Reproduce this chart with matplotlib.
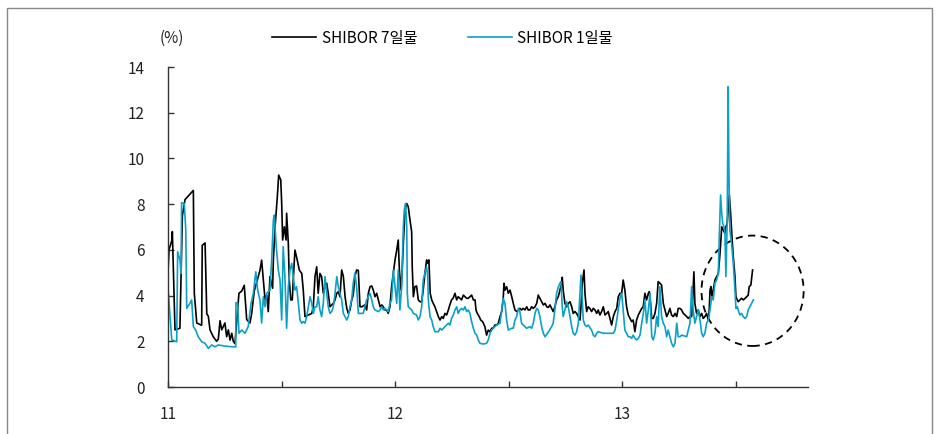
import matplotlib
matplotlib.use("Agg")
import matplotlib.pyplot as plt
from matplotlib.patches import Ellipse, Rectangle

plt.rcParams["font.family"] = ["Noto Sans CJK KR", "DejaVu Sans"]

# months since Jan 2011, rate in %
black_month = [
    0.00, 0.05, 0.20, 0.23, 0.37, 0.63, 0.76, 0.90, 1.34, 1.39, 1.52, 1.78, 1.81, 1.96, 2.05, 2.13,
    2.22, 2.39, 2.57, 2.66, 2.75, 2.84, 3.01, 3.10, 3.19, 3.28, 3.37, 3.45, 3.54, 3.75, 3.90, 4.03,
    4.16, 4.33, 4.42, 4.56, 4.86, 4.95,
    5.13, 5.22, 5.30, 5.39, 5.53, 5.57, 5.66, 5.78, 5.85, 5.96, 6.01, 6.06, 6.15, 6.24, 6.27, 6.36,
    6.41, 6.49, 6.57, 6.62, 6.71, 6.83, 6.94, 7.07, 7.15, 7.24, 7.42, 7.60, 7.68, 7.77, 7.86, 7.94,
    8.03, 8.12, 8.21, 8.30, 8.39, 8.47, 8.56, 8.74, 8.83, 8.92, 9.00, 9.09, 9.18, 9.27, 9.36, 9.45,
    9.53, 9.62, 9.71, 9.79, 9.88, 9.97, 10.06,
    10.15, 10.24, 10.41, 10.50, 10.59, 10.68, 10.77, 10.85, 10.94, 11.03, 11.12, 11.21, 11.30, 11.38,
    11.47, 11.56, 11.64, 11.73, 11.82, 11.91, 12.00, 12.09, 12.17, 12.23, 12.32, 12.38, 12.44, 12.53,
    12.62, 12.70, 12.79, 12.88, 12.91, 12.97, 13.05, 13.14, 13.23, 13.32, 13.41, 13.49, 13.58, 13.67,
    13.73, 13.79, 13.86, 13.94, 14.02, 14.11, 14.20, 14.29, 14.38, 14.47, 14.55, 14.64, 14.73, 14.82,
    14.90, 14.99, 15.08,
    15.17, 15.26, 15.34, 15.43, 15.52, 15.61, 15.79, 15.87, 15.96, 16.05, 16.14, 16.23, 16.28, 16.35,
    16.45, 16.53, 16.63, 16.75, 16.84, 16.93, 17.02, 17.11, 17.19, 17.28, 17.37, 17.46, 17.55, 17.64,
    17.72, 17.76, 17.81, 17.90, 17.99, 18.08, 18.17, 18.25, 18.34, 18.43, 18.52, 18.60, 18.69, 18.78,
    18.87, 18.96, 19.04, 19.13, 19.22, 19.31, 19.40, 19.49, 19.57, 19.66, 19.75, 19.84, 19.93, 20.02,
    20.10,
    20.19, 20.28, 20.36, 20.45, 20.54, 20.63, 20.72, 20.81, 20.84, 20.89, 20.98, 21.07, 21.16, 21.25,
    21.34, 21.42, 21.51, 21.60, 21.69, 21.78, 21.83, 21.90, 21.99, 22.04, 22.13, 22.21, 22.30, 22.39,
    22.48, 22.57, 22.66, 22.74, 22.83, 22.92, 23.01, 23.10, 23.19, 23.27, 23.36, 23.45, 23.54, 23.63,
    23.72, 23.80, 23.89, 23.98, 24.06, 24.15, 24.24, 24.33, 24.42, 24.51, 24.59, 24.68, 24.77, 24.86,
    24.95, 25.04, 25.12,
    25.21, 25.30, 25.39, 25.44, 25.51, 25.57, 25.65, 25.74, 25.83, 25.91, 26.00, 26.09, 26.18, 26.27,
    26.36, 26.44, 26.53, 26.62, 26.71, 26.80, 26.89, 26.97, 27.06, 27.15, 27.24, 27.33, 27.42, 27.50,
    27.59, 27.68, 27.73, 27.80, 27.85, 27.94, 28.03, 28.12, 28.21, 28.29, 28.38, 28.47, 28.56, 28.61,
    28.65, 28.70, 28.75, 28.82, 28.91, 29.00, 29.09, 29.18, 29.27, 29.35, 29.44, 29.49, 29.56, 29.61,
    29.67, 29.74, 29.81, 29.88, 29.97, 30.02, 30.09, 30.14, 30.23, 30.32, 30.41, 30.50, 30.59, 30.67,
    30.72, 30.81, 30.90,
]
black_rate = [
    5.0, 6.0, 6.4, 6.8, 2.5, 2.57, 7.5, 8.2, 8.6, 4.1, 2.8, 2.7, 6.2, 6.3, 3.2, 3.1,
    2.5, 2.2, 2.0, 2.1, 2.9, 2.5, 2.8, 2.2, 2.5, 2.05, 2.35, 2.0, 1.9, 4.1, 4.2, 4.45,
    2.95, 2.8, 3.2, 4.2, 5.1, 5.55,
    3.81, 4.02, 3.3, 4.83, 4.32, 5.56, 7.01, 8.33, 9.27, 9.06, 8.03, 6.43, 7.01, 6.43, 7.6, 6.28,
    4.68, 3.81, 3.81, 4.68, 5.99, 5.56, 5.12, 4.97, 4.24, 3.08, 3.15, 3.22, 3.51, 4.83, 5.26, 4.1,
    4.97, 4.83, 4.1, 4.39, 4.54, 4.1, 3.51, 3.66, 3.81, 4.1, 4.17, 3.95, 5.12, 4.83, 3.95, 3.44,
    3.22, 3.37, 3.81, 4.02, 4.83, 5.12, 5.1,
    3.51, 3.51, 3.59, 3.37, 4.1, 4.39, 4.42, 4.24, 3.95, 4.1, 3.81, 3.51, 3.59, 3.51,
    3.37, 3.37, 3.22, 3.51, 4.39, 4.97, 5.56, 5.99, 6.43, 5.12, 4.24, 5.12, 6.28, 7.74,
    8.03, 7.89, 7.31, 6.79, 5.26, 3.95, 4.39, 4.42, 3.81, 3.73, 3.73, 4.24, 4.97, 5.56,
    5.41, 5.56, 4.1, 3.81, 3.66, 3.51, 3.3, 3.08, 2.93, 3.08, 3.0, 3.22, 3.15, 3.37,
    3.6, 3.81, 3.9,
    4.1, 3.81, 3.95, 3.88, 3.81, 4.02, 3.88, 3.88, 3.95, 4.02, 3.81, 3.81, 3.37, 3.22,
    3.08, 2.93, 2.86, 2.64, 2.27, 2.49, 2.42, 2.57, 2.57, 2.71, 2.71, 2.79, 3.08, 3.3,
    3.88, 4.54, 4.24, 4.39, 4.1, 4.24, 3.95, 3.66, 3.37, 3.3, 3.37, 3.44, 3.37, 3.44,
    3.37, 3.51, 3.37, 3.37, 3.51, 3.44, 3.51, 3.66, 4.02, 3.88, 3.73, 3.59, 3.66, 3.51,
    3.48,
    3.59, 3.44, 3.3, 3.51, 3.81, 3.95, 4.24, 4.54, 4.8, 4.24, 3.66, 3.51, 3.66, 3.73,
    3.51, 3.22, 3.3, 3.22, 3.08, 2.93, 3.51, 4.54, 5.12, 4.1, 3.3, 3.51, 3.44, 3.3,
    3.44, 3.37, 3.22, 3.37, 3.15, 3.3, 3.51, 3.15, 3.22, 3.3, 3.0, 2.71, 3.08, 3.3,
    3.44, 3.95, 4.1, 4.1, 4.68, 4.24, 3.51, 3.15, 3.0, 2.86, 2.93, 2.42, 2.93, 3.15,
    3.3, 3.44, 3.51,
    4.1, 3.81, 4.1, 4.17, 3.66, 3.0, 3.0, 3.22, 3.66, 4.61, 4.54, 4.46, 3.66, 3.37,
    3.08, 3.22, 3.44, 3.15, 3.08, 3.22, 3.08, 3.44, 3.44, 3.37, 3.22, 3.15, 3.08, 3.0,
    3.08, 3.08, 3.81, 5.04, 3.66, 3.22, 3.37, 3.08, 3.22, 3.0, 3.08, 3.22, 2.93, 3.37,
    4.24, 4.39, 3.95, 4.24, 4.68, 4.83, 4.97, 5.85, 7.01, 6.87, 6.72, 7.01, 7.16, 7.74,
    8.4, 7.6, 6.58, 5.7, 4.83, 3.95, 3.81, 3.73, 3.81, 3.88, 3.81, 3.88, 3.95, 4.02,
    4.39, 4.46, 5.12,
]

blue_month = [
    0.00, 0.20, 0.46, 0.51, 0.63, 0.69, 0.72, 0.86, 0.94, 0.99, 1.16, 1.25, 1.34, 1.46, 1.60, 1.78,
    1.96, 2.13, 2.31, 2.48, 2.66, 3.01, 3.37, 3.58, 3.59, 3.68, 3.75, 3.90, 4.07, 4.24, 4.39, 4.51,
    4.64, 4.74, 4.86, 4.95,
    5.04, 5.13, 5.22, 5.39, 5.48, 5.57, 5.62, 5.71, 5.83, 5.92, 6.01, 6.09, 6.18, 6.27, 6.36, 6.45,
    6.54, 6.62, 6.71, 6.80, 6.89, 6.98, 7.07, 7.15, 7.24, 7.33, 7.42, 7.51, 7.60, 7.68, 7.77, 7.86,
    7.94, 8.03, 8.12, 8.21, 8.30, 8.39, 8.47, 8.56, 8.65, 8.74, 8.83, 8.92, 9.00, 9.18, 9.27, 9.36,
    9.45, 9.53, 9.62, 9.71, 9.79, 9.88, 9.97, 10.06,
    10.32, 10.41, 10.50, 10.59, 10.68, 10.77, 10.85, 10.94, 11.12, 11.21, 11.30, 11.38, 11.47, 11.56,
    11.64, 11.73, 11.82, 11.91, 12.00, 12.09, 12.17, 12.26, 12.35, 12.44, 12.49, 12.56, 12.62, 12.65,
    12.70, 12.88, 12.97, 13.14, 13.23, 13.32, 13.41, 13.49, 13.58, 13.67, 13.73, 13.76, 13.85, 13.94,
    14.02, 14.11, 14.29, 14.38, 14.47, 14.64, 14.82, 14.90, 14.99, 15.08,
    15.17, 15.26, 15.34, 15.43, 15.52, 15.61, 15.70, 15.79, 15.87, 15.96, 16.05, 16.14, 16.23, 16.32,
    16.40, 16.49, 16.66, 16.84, 16.93, 17.02, 17.11, 17.19, 17.28, 17.37, 17.55, 17.64, 17.72, 17.81,
    17.90, 17.99, 18.17, 18.25, 18.34, 18.43, 18.52, 18.60, 18.69, 18.78, 18.96, 19.13, 19.22, 19.31,
    19.40, 19.49, 19.57, 19.66, 19.75, 19.84, 19.93, 20.10,
    20.28, 20.36, 20.45, 20.54, 20.63, 20.72, 20.77, 20.84, 20.89, 20.98, 21.07, 21.16, 21.25, 21.34,
    21.42, 21.51, 21.60, 21.69, 21.78, 21.83, 21.90, 21.95, 22.04, 22.13, 22.21, 22.39, 22.48, 22.57,
    22.66, 22.74, 23.01, 23.27, 23.54, 23.63, 23.72, 23.80, 23.89, 23.98, 24.06, 24.15, 24.24, 24.33,
    24.42, 24.51, 24.59, 24.68, 24.77, 24.86, 24.95, 25.04, 25.12,
    25.21, 25.30, 25.39, 25.48, 25.57, 25.65, 25.74, 25.83, 25.91, 26.00, 26.09, 26.18, 26.27, 26.36,
    26.44, 26.53, 26.62, 26.71, 26.80, 26.89, 26.97, 27.06, 27.15, 27.42, 27.50, 27.59, 27.68, 27.76,
    27.85, 27.94, 28.03, 28.12, 28.21, 28.29, 28.38, 28.47, 28.56, 28.65, 28.74, 28.82, 28.91, 29.00,
    29.09, 29.14, 29.21, 29.27, 29.32, 29.39, 29.44, 29.49, 29.56, 29.61, 29.65, 29.70, 29.79, 29.88,
    29.97, 30.02, 30.09, 30.14, 30.23, 30.32, 30.41, 30.50, 30.59, 30.67, 30.76, 30.85, 30.94,
]
blue_rate = [
    4.3, 2.06, 1.98, 5.92, 5.56, 4.97, 8.06, 8.03, 6.87, 3.44, 3.66, 3.81, 2.64, 2.49, 2.2, 1.98,
    1.91, 1.69, 1.84, 1.76, 1.84, 1.79, 1.76, 1.76, 3.69, 3.66, 2.35, 2.49, 2.35, 2.64, 3.66, 4.1,
    5.04, 4.24, 3.81, 2.8,
    3.95, 3.51, 4.1, 4.24, 5.56, 7.31, 7.52, 6.28, 5.12, 4.68, 2.93, 6.14, 4.83, 2.57, 4.39, 5.12,
    5.41, 4.83, 4.24, 4.39, 3.66, 2.93, 2.79, 2.86, 2.79, 3.08, 3.51, 3.95, 3.66, 3.22, 3.51, 3.51,
    3.95, 3.37, 3.08, 3.66, 4.83, 4.1, 3.51, 3.22, 3.3, 3.51, 4.1, 4.83, 4.39, 3.81, 3.22, 3.08,
    2.93, 3.08, 3.51, 3.81, 4.54, 4.99, 4.39, 3.22,
    3.22, 3.51, 3.81, 3.95, 4.1, 3.81, 3.51, 3.37, 3.3, 3.37, 3.51, 3.37, 3.44, 3.37,
    3.3, 3.66, 3.81, 5.12, 4.39, 3.66, 5.12, 3.37, 4.39, 7.01, 7.74, 8.03, 7.01, 4.1,
    3.51, 3.37, 3.22, 3.15, 2.93, 3.08, 3.51, 4.68, 4.97, 5.26, 4.83, 3.81, 3.08, 2.93,
    2.64, 2.42, 2.42, 2.57, 2.49, 2.64, 2.79, 2.71, 3.0, 3.15,
    3.37, 3.51, 3.22, 3.37, 3.44, 3.37, 3.51, 3.3, 3.37, 3.22, 2.86, 2.57, 2.35, 2.27,
    2.06, 1.91, 1.88, 1.91, 2.06, 2.35, 2.49, 2.57, 2.64, 2.71, 2.79, 3.37, 3.88, 3.66,
    2.93, 2.49, 2.57, 2.57, 2.93, 3.08, 3.44, 3.3, 2.79, 2.71, 2.57, 2.64, 2.57, 2.79,
    3.22, 3.44, 3.37, 3.08, 2.64, 2.35, 2.2, 2.4,
    2.64, 2.79, 3.37, 4.1, 4.36, 4.54, 4.61, 3.51, 3.08, 3.37, 3.73, 3.51, 3.08, 2.64,
    2.35, 2.27, 2.42, 2.79, 4.1, 4.9, 3.81, 2.93, 2.71, 2.64, 2.71, 2.49, 2.27, 2.2,
    2.35, 2.42, 2.35, 2.35, 2.35, 2.49, 2.93, 3.37, 3.88, 4.1, 3.37, 2.49, 2.35, 2.2,
    2.2, 2.13, 2.27, 2.13, 2.06, 2.13, 2.27, 2.8, 3.2,
    3.81, 2.79, 3.37, 4.1, 2.2, 2.06, 2.35, 3.08, 2.64, 4.39, 3.08, 2.79, 2.64, 2.2,
    2.49, 2.2, 1.91, 1.76, 1.91, 2.79, 2.2, 2.2, 2.27, 2.2, 2.49, 2.79, 4.39, 3.37,
    2.79, 3.08, 3.37, 2.93, 2.35, 2.2, 2.35, 2.79, 2.93, 3.37, 3.95, 3.81, 4.54, 4.68,
    4.97, 6.58, 8.4, 7.6, 7.16, 7.01, 6.72, 4.83, 7.31, 13.14, 9.49, 6.87, 6.28, 5.41,
    4.24, 3.44, 3.51, 3.37, 3.15, 3.22, 3.08, 3.0, 3.08, 3.37, 3.51, 3.66, 3.81,
]

year_ticks = [0, 12, 24]
year_labels = ["11", "12", "13"]
half_ticks = [6, 18, 30]
series_names = ["SHIBOR 7일물", "SHIBOR 1일물"]

W, H = 939, 434
fig = plt.figure(figsize=(W / 100, H / 100), dpi=100)
ax = fig.add_axes([168 / W, 1 - 387 / H, (808 - 168) / W, (387 - 67) / H])

ax.plot(black_month, black_rate, color="black", linewidth=1.2, label=series_names[0])
ax.plot(blue_month, blue_rate, color="#0aa0c8", linewidth=1.2, label=series_names[1])

# dashed circle marking the recent period
ax.add_patch(Ellipse((30.9, 4.21), 5.4, 4.83, fill=False, edgecolor="black",
                     linestyle=(0, (4, 3)), linewidth=1.3, clip_on=False))

ax.set_xlim(0, 33.83)
ax.set_ylim(0, 14)
ax.set_yticks(range(0, 15, 2))
ax.set_xticks(year_ticks)
ax.set_xticklabels(year_labels)
ax.set_xticks(half_ticks, minor=True)

for side in ["top", "right"]:
    ax.spines[side].set_visible(False)
for side in ["left", "bottom"]:
    ax.spines[side].set_color("#333333")
    ax.spines[side].set_linewidth(1.0)

ax.tick_params(axis="y", direction="in", length=4, width=1, color="#333333",
               labelsize=11, pad=17, labelcolor="#222222")
ax.tick_params(axis="x", which="both", direction="in", length=4, width=1, color="#333333",
               labelsize=11, pad=14, labelcolor="#222222")

fig.text(172 / W, 1 - 38 / H, "(%)", ha="center", va="center", fontsize=11, color="#222222")
fig.legend(loc="center left", bbox_to_anchor=(272 / W, 1 - 38 / H), ncol=2, frameon=False,
           fontsize=11, handlelength=2.9, handletextpad=0.35, columnspacing=3.3,
           borderpad=0, borderaxespad=0)

# outer frame of the figure box
fig.add_artist(Rectangle((7 / W, -0.05), (932 - 7) / W, 1.05 - 8 / H, transform=fig.transFigure,
                         fill=False, edgecolor="#888888", linewidth=1.0))

fig.savefig("out.png", dpi=100)
